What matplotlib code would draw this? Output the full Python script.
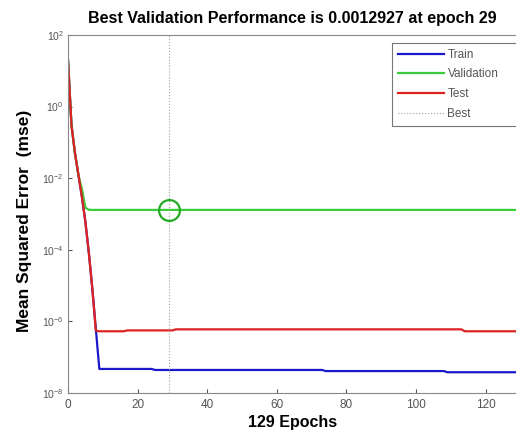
import numpy as np
import matplotlib
matplotlib.use("Agg")
import matplotlib.pyplot as plt
from matplotlib.ticker import NullLocator

plt.rcParams['font.family'] = ['Liberation Sans', 'DejaVu Sans']

# Courbes de performance (mse) par epoch
epochs_debut = [0, 1, 2, 3, 4, 5, 6, 7, 8, 9]
train_debut = [20, 0.3, 0.05, 0.012, 3e-3, 6e-4, 8e-5, 8e-6, 6e-7, 4.7e-8]
test_debut = [20, 0.3, 0.05, 0.012, 3e-3, 6e-4, 8e-5, 8e-6, 5.5e-7, 5.3e-7]
val_debut = [20, 0.3, 0.05, 0.012, 5e-3, 1.5e-3, 1.31e-3, 1.3e-3, 1.3e-3, 1.3e-3]

# paliers (epoch de fin, valeur) apres l'epoch 9
train_paliers = [(24, 4.7e-8), (73, 4.4e-8), (108, 4.1e-8), (129, 3.8e-8)]
test_paliers = [(16, 5.3e-7), (30, 5.6e-7), (113, 6.0e-7), (129, 5.3e-7)]
val_paliers = [(129, 1.3e-3)]

best_epoch = 29
best_perf = 0.0012927
n_epochs = 129


def construire(debut, paliers):
    valeurs = list(debut)
    for fin, v in paliers:
        while len(valeurs) <= fin:
            valeurs.append(v)
    return np.array(valeurs)


x = np.arange(n_epochs + 1)
train = construire(train_debut, train_paliers)
val = construire(val_debut, val_paliers)
test = construire(test_debut, test_paliers)
val[best_epoch] = best_perf

fig = plt.figure(figsize=(5.16, 4.36), dpi=100)
ax = fig.add_axes([68 / 516, 43 / 436, 449 / 516, 358 / 436])

ax.semilogy(x, train, color='#1a1acc', lw=1.6, label='Train')
ax.semilogy(x, val, color='#3acc3a', lw=1.6, label='Validation')
ax.semilogy(x, test, color='#dd2222', lw=1.6, label='Test')
ax.axvline(best_epoch, color='#9aa89a', lw=0.8, ls=':', label='Best')
ax.semilogy([best_epoch], [best_perf], 'o', mfc='none', mec='#22aa22',
            ms=15, mew=1.6)

ax.set_xlim(0, n_epochs)
ax.set_ylim(1e-8, 1e2)
ax.set_xticks([0, 20, 40, 60, 80, 100, 120])
ax.set_yticks([1e-8, 1e-6, 1e-4, 1e-2, 1e0, 1e2])
ax.yaxis.set_minor_locator(NullLocator())
ax.tick_params(direction='in', length=3, colors='#555555',
               labelcolor='#555555')
ax.tick_params(axis='x', labelsize=8.5, pad=4)
ax.tick_params(axis='y', labelsize=7.5, pad=3)
for s in ax.spines.values():
    s.set_color('#888888')
    s.set_linewidth(0.8)

ax.set_title('Best Validation Performance is 0.0012927 at epoch 29',
             fontsize=11.5, fontweight='bold', pad=9)
ax.set_xlabel('129 Epochs', fontsize=11.5, fontweight='bold', labelpad=3)
ax.set_ylabel('Mean Squared Error  (mse)', fontsize=12.5, fontweight='bold')
ax.yaxis.set_label_coords(-0.08, 0.48)

# la legende deborde a droite comme sur l'original
leg = ax.legend(loc='upper left', bbox_to_anchor=(0.7216, 0.978, 0.30, 0),
                mode='expand', fontsize=8.5, frameon=True, fancybox=False,
                handlelength=3.9, borderpad=0.5, labelspacing=0.65,
                handletextpad=0.3, borderaxespad=0)
leg.get_frame().set_edgecolor('#555555')
leg.get_frame().set_linewidth(0.8)
for t in leg.get_texts():
    t.set_color('#555555')

fig.savefig('out.png', dpi=100)
